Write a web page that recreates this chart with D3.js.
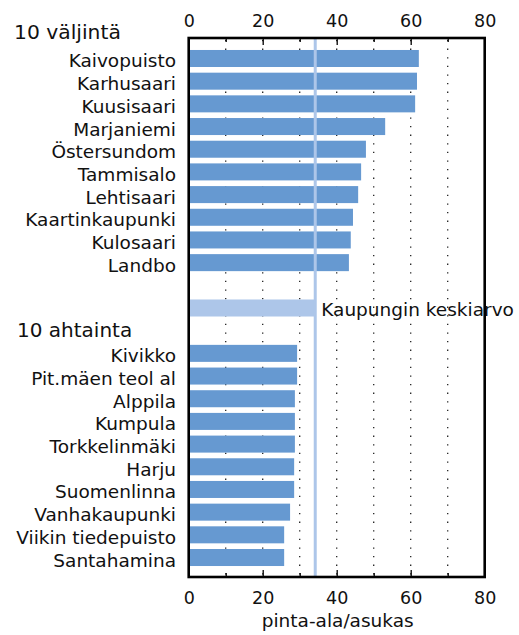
<!DOCTYPE html>
<html>
<head>
<meta charset="utf-8">
<script src="https://cdn.jsdelivr.net/npm/d3@7"></script>
<style>
  html, body { margin: 0; padding: 0; background: #fff; }
  svg { display: block; }
  text { font-family: "DejaVu Sans", sans-serif; fill: #111; }
</style>
</head>
<body>
<svg id="chart" width="519" height="635"></svg>
<script>
// ---- data ----
const topNames = ["Kaivopuisto", "Karhusaari", "Kuusisaari", "Marjaniemi", "Östersundom",
  "Tammisalo", "Lehtisaari", "Kaartinkaupunki", "Kulosaari", "Landbo"];
const topValues = [62.2, 61.7, 61.2, 53.1, 47.9, 46.6, 45.8, 44.4, 43.8, 43.3];
const bottomNames = ["Kivikko", "Pit.mäen teol al", "Alppila", "Kumpula", "Torkkelinmäki",
  "Harju", "Suomenlinna", "Vanhakaupunki", "Viikin tiedepuisto", "Santahamina"];
const bottomValues = [29.3, 29.3, 28.7, 28.7, 28.7, 28.5, 28.5, 27.4, 25.8, 25.8];
const averageLabel = "Kaupungin keskiarvo";
const averageValue = 34.2;
const groupTitles = ["10 väljintä", "10 ahtainta"];
const majorTicks = [0, 20, 40, 60, 80];
const minorTicks = [10, 30, 50, 70];
const gridTicks = [10, 20, 30, 40, 50, 60, 70];
const xTitle = "pinta-ala/asukas";

// ---- layout ----
const svg = d3.select("#chart");
const plot = { left: 188.7, right: 484.7, top: 38, bottom: 577 };

const x = d3.scaleLinear().domain([0, 80]).range([plot.left, plot.right]);

const slots = [...topNames, "__gap", "__avg", "__hdr", ...bottomNames];
const y = d3.scaleBand().domain(slots)
  .range([47.15, 568.85]).paddingInner(0.25).paddingOuter(0.125);

const barColor = "#6699d1";
const avgColor = "#adc6e9";

// gridlines (dotted, behind bars)
svg.append("g").selectAll("line").data(gridTicks).join("line")
  .attr("x1", d => x(d)).attr("x2", d => x(d))
  .attr("y1", plot.top + 2).attr("y2", plot.bottom)
  .attr("stroke", "#222").attr("stroke-width", 1.3)
  .attr("stroke-dasharray", "1.3 7.3");

// bars
const rows = topNames.map((n, i) => ({ name: n, value: topValues[i] }))
  .concat(bottomNames.map((n, i) => ({ name: n, value: bottomValues[i] })));

svg.append("g").selectAll("rect").data(rows).join("rect")
  .attr("x", x(0)).attr("y", d => y(d.name))
  .attr("width", d => x(d.value) - x(0)).attr("height", y.bandwidth())
  .attr("fill", barColor);

// average bar
svg.append("rect")
  .attr("x", x(0)).attr("y", y("__avg"))
  .attr("width", x(averageValue) - x(0)).attr("height", y.bandwidth())
  .attr("fill", avgColor);

svg.append("text")
  .attr("x", x(averageValue) + 6)
  .attr("y", y("__avg") + y.bandwidth() / 2 + 7.5)
  .style("font-size", "18.5px")
  .text(averageLabel);

// average line
svg.append("line")
  .attr("x1", x(averageValue)).attr("x2", x(averageValue))
  .attr("y1", plot.top).attr("y2", plot.bottom)
  .attr("stroke", avgColor).attr("stroke-width", 3);

// category labels
svg.append("g").selectAll("text").data(rows).join("text")
  .attr("x", 176).attr("y", d => y(d.name) + y.bandwidth() / 2 + 9)
  .attr("text-anchor", "end")
  .style("font-size", "18.5px")
  .text(d => d.name);

// group titles
svg.append("text").attr("x", 14).attr("y", 39)
  .style("font-size", "20.3px").text(groupTitles[0]);
svg.append("text").attr("x", 17).attr("y", y("__hdr") + y.bandwidth() / 2 + 6.5)
  .style("font-size", "20px").text(groupTitles[1]);

// axes
const topAxis = svg.append("g").attr("transform", `translate(0,${plot.top})`)
  .call(d3.axisTop(x).tickValues(majorTicks).tickSize(-7).tickPadding(11).tickFormat(d3.format("d")));
const topMinor = svg.append("g").attr("transform", `translate(0,${plot.top})`)
  .call(d3.axisTop(x).tickValues(minorTicks).tickSize(-4).tickFormat(""));
const botAxis = svg.append("g").attr("transform", `translate(0,${plot.bottom})`)
  .call(d3.axisBottom(x).tickValues(majorTicks).tickSize(-7).tickPadding(15).tickFormat(d3.format("d")));
const botMinor = svg.append("g").attr("transform", `translate(0,${plot.bottom})`)
  .call(d3.axisBottom(x).tickValues(minorTicks).tickSize(-4).tickFormat(""));

[topAxis, topMinor, botAxis, botMinor].forEach(g => {
  g.select(".domain").remove();
  g.selectAll(".tick line").attr("stroke", "#000").attr("stroke-width", 1.3);
  g.selectAll(".tick text").style("font-size", "17.5px")
    .style("font-family", "'DejaVu Sans', sans-serif").attr("fill", "#111");
});

// axis title
svg.append("text")
  .attr("x", (plot.left + plot.right) / 2 + 1).attr("y", 627)
  .attr("text-anchor", "middle")
  .style("font-size", "18.5px")
  .text(xTitle);

// frame
svg.append("rect")
  .attr("x", plot.left).attr("y", plot.top)
  .attr("width", plot.right - plot.left).attr("height", plot.bottom - plot.top)
  .attr("fill", "none").attr("stroke", "#000").attr("stroke-width", 2.6);
</script>
</body>
</html>
